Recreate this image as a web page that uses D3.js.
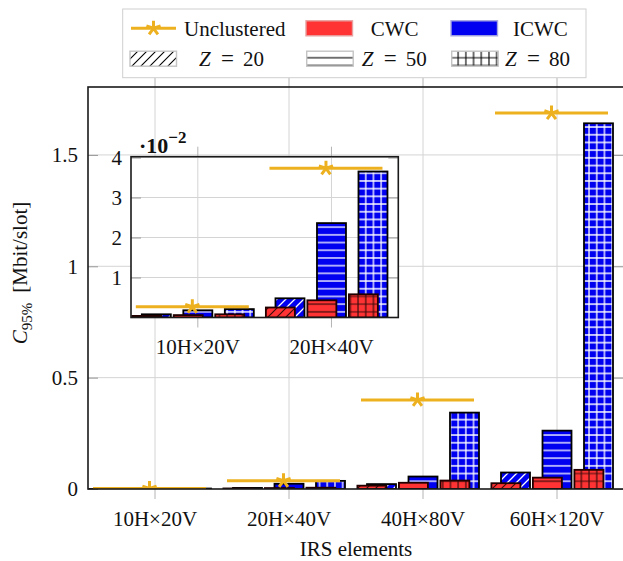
<!DOCTYPE html>
<html>
<head>
<meta charset="utf-8">
<script src="https://cdn.jsdelivr.net/npm/d3@7"></script>
<style>
body { margin: 0; background: #fff; }
svg { display: block; font-family: "Liberation Serif", "DejaVu Serif", serif; }
</style>
</head>
<body>
<svg id="viz" width="623" height="561"></svg>
<script>
// data (Mbit/slot)
var categories = ["10H×20V", "20H×40V", "40H×80V", "60H×120V"];
var zLabels = ["20", "50", "80"];
var unclustered = [0.0027, 0.0373, 0.40, 1.688];
var cwcZ20 = [0.0004, 0.0025, 0.015, 0.026];
var cwcZ50 = [0.0006, 0.0043, 0.028, 0.051];
var cwcZ80 = [0.0008, 0.0058, 0.038, 0.086];
var icwcZ20 = [0.0008, 0.0048, 0.022, 0.074];
var icwcZ50 = [0.0018, 0.0236, 0.056, 0.262];
var icwcZ80 = [0.0021, 0.0365, 0.343, 1.642];
var mainTicks = [0, 0.5, 1, 1.5];
var insetTicks = [1, 2, 3, 4];
var insetFactor = 100; // inset axis is in 1e-2

var colors = {
	cwc: { fill: "#ff3333", hatch: "#3b0a0a", stroke: "#220000" },
	icwc: { fill: "#0000f0", hatch: "#ffffff", stroke: "#000000" },
	unclustered: "#edb120"
};
var patterns = ["diag", "horiz", "grid"];

var series = [
	{ scheme: "icwc", z: 0, values: icwcZ20 },
	{ scheme: "icwc", z: 1, values: icwcZ50 },
	{ scheme: "icwc", z: 2, values: icwcZ80 },
	{ scheme: "cwc", z: 0, values: cwcZ20 },
	{ scheme: "cwc", z: 1, values: cwcZ50 },
	{ scheme: "cwc", z: 2, values: cwcZ80 }
];

var svg = d3.select("#viz");
var defs = svg.append("defs");

function addPattern(id, kind, fg, bg, lw) {
	var s = kind === "diag" ? 9 : 7.7;
	var p = defs.append("pattern").attr("id", id)
		.attr("patternUnits", "userSpaceOnUse")
		.attr("width", s).attr("height", s);
	p.append("rect").attr("width", s).attr("height", s).attr("fill", bg);
	var d;
	if (kind === "diag") d = "M-1,1 L1,-1 M0," + s + " L" + s + ",0 M" + (s - 1) + "," + (s + 1) + " L" + (s + 1) + "," + (s - 1);
	else if (kind === "horiz") d = "M0," + s / 2 + " H" + s;
	else d = "M0," + s / 2 + " H" + s + " M" + s / 2 + ",0 V" + s;
	p.append("path").attr("d", d).attr("stroke", fg).attr("stroke-width", lw).attr("fill", "none");
}
patterns.forEach(function (k) {
	addPattern("cwc-" + k, k, colors.cwc.hatch, colors.cwc.fill, 1.2);
	addPattern("icwc-" + k, k, colors.icwc.hatch, colors.icwc.fill, 1.3);
	addPattern("leg-" + k, k, "#000", "#fff", 1.1);
});

var barW = 29,
	blueOff = [-41.5, 0, 41.5],
	redShift = -9.6,
	lineOff = -5.5,
	lineHalf = 56.5;

function starPath(r) {
	var d = "";
	for (var k = 0; k < 5; k++) {
		var a = (-90 + 72 * k) * Math.PI / 180;
		d += "M0,0 L" + (r * Math.cos(a)).toFixed(2) + "," + (r * Math.sin(a)).toFixed(2) + " ";
	}
	return d;
}

function drawPanel(g, x, y, cats, factor, clipId, o) {
	var left = x.range()[0], right = x.range()[1];
	var top = y.range()[1], bottom = y.range()[0];
	var cx = function (c) { return x(c) + x.bandwidth() / 2; };

	g.append("rect").attr("x", left).attr("y", top)
		.attr("width", right - left).attr("height", bottom - top).attr("fill", "#fff");

	defs.append("clipPath").attr("id", clipId).append("rect")
		.attr("x", left).attr("y", top).attr("width", right - left).attr("height", bottom - top);

	// grid
	var grid = g.append("g").attr("stroke", "#d4d4d4").attr("stroke-width", 1);
	grid.selectAll("line.v").data(cats).enter().append("line")
		.attr("x1", cx).attr("x2", cx).attr("y1", top).attr("y2", bottom);
	grid.selectAll("line.h").data(o.ticks.filter(function (t) { return t > 0; })).enter().append("line")
		.attr("x1", left).attr("x2", right)
		.attr("y1", function (t) { return y(t); }).attr("y2", function (t) { return y(t); });

	// axes ticks
	var xt = g.append("g").attr("transform", "translate(0," + bottom + ")")
		.call(d3.axisBottom(x).tickSize(10).tickPadding(o.xPad));
	var xtTop = g.append("g").attr("transform", "translate(0," + top + ")")
		.call(d3.axisTop(x).tickSize(10).tickFormat(""));
	var yl = g.append("g").attr("transform", "translate(" + left + ",0)")
		.call(d3.axisLeft(y).tickValues(o.ticks).tickSize(-10).tickPadding(o.yPad)
			.tickFormat(function (t) { return d3.format("")(t); }));
	var yr = g.append("g").attr("transform", "translate(" + right + ",0)")
		.call(d3.axisRight(y).tickValues(o.ticks).tickSize(-10).tickFormat(""));
	[xt, xtTop, yl, yr].forEach(function (a) {
		a.attr("font-family", null).attr("font-size", 21);
		a.select(".domain").remove();
		a.selectAll("text").attr("fill", "#111");
	});
	[xt, xtTop].forEach(function (a) { a.selectAll("line").attr("stroke", "#b4b4b4"); });
	[yl, yr].forEach(function (a) { a.selectAll("line").attr("stroke", "#999"); });

	var plot = g.append("g").attr("clip-path", "url(#" + clipId + ")");

	series.forEach(function (s) {
		var off = blueOff[s.z] + (s.scheme === "cwc" ? redShift : 0);
		plot.append("g").selectAll("rect").data(cats).enter().append("rect")
			.attr("x", function (c) { return cx(c) + off - barW / 2; })
			.attr("y", function (c, i) { return y(s.values[i] * factor); })
			.attr("width", barW)
			.attr("height", function (c, i) { return y(0) - y(s.values[i] * factor); })
			.attr("fill", "url(#" + s.scheme + "-" + patterns[s.z] + ")")
			.attr("stroke", colors[s.scheme].stroke)
			.attr("stroke-width", 1.8);
	});

	var unc = plot.append("g").selectAll("g").data(cats).enter().append("g");
	unc.append("line")
		.attr("x1", function (c) { return cx(c) + lineOff - lineHalf; })
		.attr("x2", function (c) { return cx(c) + lineOff + lineHalf; })
		.attr("y1", function (c, i) { return y(unclustered[i] * factor); })
		.attr("y2", function (c, i) { return y(unclustered[i] * factor); })
		.attr("stroke", colors.unclustered).attr("stroke-width", 3);
	unc.append("path")
		.attr("transform", function (c, i) { return "translate(" + (cx(c) + lineOff) + "," + y(unclustered[i] * factor) + ")"; })
		.attr("d", starPath(7.5))
		.attr("stroke", colors.unclustered).attr("stroke-width", 3).attr("fill", "none");

	g.append("rect").attr("x", left).attr("y", top)
		.attr("width", right - left).attr("height", bottom - top)
		.attr("fill", "none").attr("stroke", "#1a1a1a").attr("stroke-width", 1.6);
}

// main chart
var xMain = d3.scaleBand().domain(categories).range([88, 624]);
var yMain = d3.scaleLinear().domain([0, 1.805]).range([489, 87]);
drawPanel(svg.append("g"), xMain, yMain, categories, 1, "clipMain", { ticks: mainTicks, xPad: 12, yPad: 10 });

// inset zoom on the two smallest arrays
var insetCats = categories.slice(0, 2);
var xIn = d3.scaleBand().domain(insetCats).range([131, 398.3]);
var yIn = d3.scaleLinear().domain([0, 4.02]).range([317.5, 156.7]);
drawPanel(svg.append("g"), xIn, yIn, insetCats, insetFactor, "clipInset", { ticks: insetTicks, xPad: 12, yPad: 9 });

var sc = svg.append("text").attr("x", 139).attr("y", 153).attr("font-size", 22)
	.attr("font-weight", "bold").attr("fill", "#111");
sc.append("tspan").text("·10");
sc.append("tspan").attr("dy", -10).attr("font-size", 17).text("−2");

// axis labels
svg.append("text").attr("x", 356).attr("y", 556).attr("text-anchor", "middle")
	.attr("font-size", 21).attr("fill", "#111").text("IRS elements");
var yLab = svg.append("text").attr("transform", "translate(27,273) rotate(-90)")
	.attr("text-anchor", "middle").attr("font-size", 21).attr("fill", "#111");
yLab.append("tspan").attr("font-style", "italic").text("C");
yLab.append("tspan").attr("font-size", 15).attr("dy", 5).text("95%");
yLab.append("tspan").attr("dy", -5).attr("dx", 10).text("[Mbit/slot]");

// legend
var leg = svg.append("g");
leg.append("rect").attr("x", 122.7).attr("y", 9).attr("width", 463.3).attr("height", 68.7)
	.attr("fill", "#fff").attr("stroke", "#cfcfcf").attr("stroke-width", 1);
var row1 = 28.3, row2 = 58.7;
leg.append("line").attr("x1", 131).attr("x2", 176).attr("y1", row1).attr("y2", row1)
	.attr("stroke", colors.unclustered).attr("stroke-width", 3);
leg.append("path").attr("transform", "translate(153.5," + row1 + ")").attr("d", starPath(7.5))
	.attr("stroke", colors.unclustered).attr("stroke-width", 3).attr("fill", "none");
leg.append("text").attr("x", 184).attr("y", 35.5).attr("font-size", 21).attr("fill", "#111").text("Unclustered");

var schemeLeg = [
	{ name: "CWC", fill: colors.cwc.fill, border: "#e8a0a0", x: 306, tx: 370.7 },
	{ name: "ICWC", fill: colors.icwc.fill, border: "#a8a8e0", x: 451, tx: 513 }
];
schemeLeg.forEach(function (d) {
	leg.append("rect").attr("x", d.x).attr("y", row1 - 7.5).attr("width", 46.5).attr("height", 15)
		.attr("fill", d.fill).attr("stroke", d.border).attr("stroke-width", 1.4);
	leg.append("text").attr("x", d.tx).attr("y", 35.5).attr("font-size", 21).attr("fill", "#111").text(d.name);
});

var zLeg = [{ x: 130, tx: 199 }, { x: 306.7, tx: 361.7 }, { x: 451.7, tx: 505 }];
zLeg.forEach(function (d, i) {
	leg.append("rect").attr("x", d.x).attr("y", row2 - 7.5).attr("width", 46.5).attr("height", 15)
		.attr("fill", "url(#leg-" + patterns[i] + ")").attr("stroke", "#c4c4c4").attr("stroke-width", 1.4);
	var t = leg.append("g").attr("font-size", 21).attr("fill", "#111");
	t.append("text").attr("x", d.tx).attr("y", 65.5).attr("font-style", "italic").text("Z");
	t.append("text").attr("x", d.tx + 22).attr("y", 65.5).attr("font-size", 23).text("=");
	t.append("text").attr("x", d.tx + 44).attr("y", 65.5).text(zLabels[i]);
});
</script>
</body>
</html>
